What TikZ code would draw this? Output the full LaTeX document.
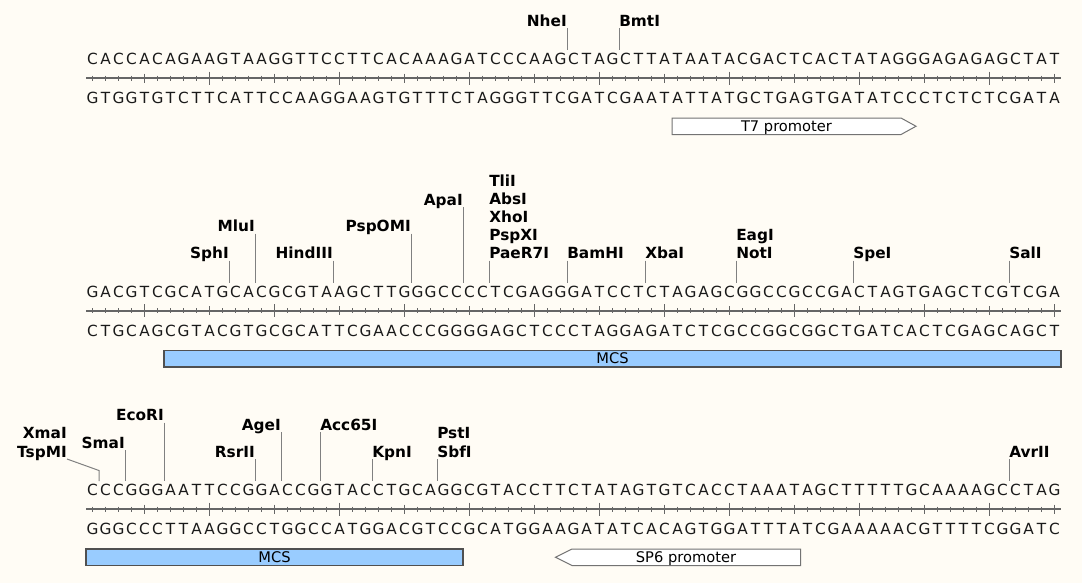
\documentclass[tikz,border=0pt]{standalone}
\usepackage{fontspec}
\setmainfont{DejaVu Sans}
\usepackage{tikz}
\usetikzlibrary{positioning}
\usepackage{xcolor}

\definecolor{paper}{HTML}{FFFCF5}
\definecolor{rulegray}{HTML}{666666}
\definecolor{mcsblue}{HTML}{99CCFF}
\definecolor{boxgray}{HTML}{505050}

% one strand of bases, one node per base, 13px apart
\makeatletter
\newcount\seq@i
\newcommand\seqrow[3]{% name, y, bases
  \seq@i=0 \def\seq@name{#1}\def\seq@y{#2}%
  \seq@next#3\@nil}
\def\seq@next#1{%
  \ifx#1\@nil\expandafter\@gobble\else\expandafter\@firstofone\fi
  {\seq@put{#1}\seq@next}}
\def\seq@put#1{%
  \node[nuc] (\seq@name-\the\seq@i) at ({92.5+13*\the\seq@i},\seq@y) {#1};%
  \advance\seq@i by 1 }
\makeatother

% ruler between the strands: y, number of the first base
\newcommand\seqruler[2]{%
  \draw[rulerline] (86,#1) -- (1061,#1);
  \foreach \i in {0,...,74}{
    \pgfmathtruncatemacro\tpos{mod(\i+#2,10)}
    \ifnum\tpos=0 \def\tkh{6.5}\else\ifnum\tpos=5 \def\tkh{4.5}\else\def\tkh{2.5}\fi\fi
    \draw[rtick] ({92.5+13*\i},{#1-\tkh}) -- ({92.5+13*\i},{#1+\tkh});
  }}

\begin{document}
\begin{tikzpicture}[
    x=0.75pt, y=-0.75pt,
    nuc/.style={font=\fontsize{11.5}{13}\selectfont, text=black!90, inner sep=0pt},
    site/.style={font=\fontsize{11.5}{13}\selectfont\bfseries, inner sep=0pt},
    cutline/.style={draw=black!50, line width=0.75pt},
    rulerline/.style={draw=rulegray, line width=1.5pt},
    rtick/.style={draw=rulegray, line width=1pt},
    mcsbar/.style={fill=mcsblue, draw=boxgray, line width=1pt},
    promo/.style={fill=white, draw=black!55, line width=0.75pt},
    featlabel/.style={font=\fontsize{11}{13}\selectfont, inner sep=0pt, anchor=base}
]

\fill[paper] (0,0) rectangle (1082,583);
\useasboundingbox (0,0) rectangle (1082,583);

% Row 1: bases 1-75
\seqrow{topA}{59}{CACCACAGAAGTAAGGTTCCTTCACAAAGATCCCAAGCTAGCTTATAATACGACTCACTATAGGGAGAGAGCTAT}
\seqruler{78}{1}
\seqrow{botA}{98}{GTGGTGTCTTCATTCCAAGGAAGTGTTTCTAGGGTTCGATCGAATATTATGCTGAGTGATATCCCTCTCTCGATA}

\node[site, anchor=base east] (nhe) at (567,26) {NheI};
\node[site, anchor=base west] (bmt) at (619,26) {BmtI};
\coordinate (nhe-cut) at (567,50);
\coordinate (bmt-cut) at (619,50);
\draw[cutline] ([yshift=-1.5pt]nhe.base east) -- (nhe-cut);
\draw[cutline] ([yshift=-1.5pt]bmt.base west) -- (bmt-cut);

\draw[promo] (672,118) -- (901,118) -- (916,126.25) -- (901,134.5) -- (672,134.5) -- cycle;
\node[featlabel] (t7) at (786.5,131.3) {T7 promoter};

% Row 2: bases 76-150
\seqrow{topB}{291.5}{GACGTCGCATGCACGCGTAAGCTTGGGCCCCTCGAGGGATCCTCTAGAGCGGCCGCCGACTAGTGAGCTCGTCGA}
\seqruler{310.5}{76}
\seqrow{botB}{330.5}{CTGCAGCGTACGTGCGCATTCGAACCCGGGGAGCTCCCTAGGAGATCTCGCCGGCGGCTGATCACTCGAGCAGCT}

\node[site, anchor=base east] (sph) at (229,258.5) {SphI};
\node[site, anchor=base east] (mlu) at (255,231.7) {MluI};
\node[site, anchor=base east] (hind) at (333,258.5) {HindIII};
\node[site, anchor=base east] (pspo) at (411,231.7) {PspOMI};
\node[site, anchor=base east] (apa) at (463,205) {ApaI};
\node[site, anchor=base west] (paer) at (489,258.5) {PaeR7I};
\node[site, anchor=base west] (pspx) at (489,240.4) {PspXI};
\node[site, anchor=base west] (xho) at (489,222.3) {XhoI};
\node[site, anchor=base west] (abs) at (489,204.2) {AbsI};
\node[site, anchor=base west] (tli) at (489,186.1) {TliI};
\node[site, anchor=base west] (bam) at (567,258.5) {BamHI};
\node[site, anchor=base west] (xba) at (645,258.5) {XbaI};
\node[site, anchor=base west] (not) at (736,258.5) {NotI};
\node[site, anchor=base west] (eag) at (736,240.4) {EagI};
\node[site, anchor=base west] (spe) at (853,258.5) {SpeI};
\node[site, anchor=base west] (sal) at (1009,258.5) {SalI};

\coordinate (sph-cut) at (229,282.5);
\coordinate (mlu-cut) at (255,282.5);
\coordinate (hind-cut) at (333,282.5);
\coordinate (pspo-cut) at (411,282.5);
\coordinate (apa-cut) at (463,282.5);
\coordinate (paer-cut) at (489,282.5);
\coordinate (bam-cut) at (567,282.5);
\coordinate (xba-cut) at (645,282.5);
\coordinate (not-cut) at (736,282.5);
\coordinate (spe-cut) at (853,282.5);
\coordinate (sal-cut) at (1009,282.5);

\draw[cutline] ([yshift=-1.5pt]sph.base east) -- (sph-cut);
\draw[cutline] ([yshift=-1.5pt]mlu.base east) -- (mlu-cut);
\draw[cutline] ([yshift=-1.5pt]hind.base east) -- (hind-cut);
\draw[cutline] ([yshift=-1.5pt]pspo.base east) -- (pspo-cut);
\draw[cutline] ([yshift=-1.5pt]apa.base east) -- (apa-cut);
\draw[cutline] ([yshift=-1.5pt]paer.base west) -- (paer-cut);
\draw[cutline] ([yshift=-1.5pt]bam.base west) -- (bam-cut);
\draw[cutline] ([yshift=-1.5pt]xba.base west) -- (xba-cut);
\draw[cutline] ([yshift=-1.5pt]not.base west) -- (not-cut);
\draw[cutline] ([yshift=-1.5pt]spe.base west) -- (spe-cut);
\draw[cutline] ([yshift=-1.5pt]sal.base west) -- (sal-cut);

\draw[mcsbar] (164,350.5) rectangle (1061,367);
\node[featlabel] (mcsB) at (612.5,363.8) {MCS};

% Row 3: bases 151-225
\seqrow{topC}{490}{CCCGGGAATTCCGGACCGGTACCTGCAGGCGTACCTTCTATAGTGTCACCTAAATAGCTTTTTGCAAAAGCCTAG}
\seqruler{509}{151}
\seqrow{botC}{529}{GGGCCCTTAAGGCCTGGCCATGGACGTCCGCATGGAAGATATCACAGTGGATTTATCGAAAAACGTTTTCGGATC}

\node[site, anchor=base east] (tspm) at (67,457) {TspMI};
\node[site, anchor=base east] (xma) at (67,438.9) {XmaI};
\node[site, anchor=base east] (sma) at (125,448.2) {SmaI};
\node[site, anchor=base east] (eco) at (164,420.7) {EcoRI};
\node[site, anchor=base east] (rsr) at (255,457) {RsrII};
\node[site, anchor=base east] (age) at (281,430.3) {AgeI};
\node[site, anchor=base west] (acc) at (320,430.3) {Acc65I};
\node[site, anchor=base west] (kpn) at (372,457) {KpnI};
\node[site, anchor=base west] (sbf) at (437,457) {SbfI};
\node[site, anchor=base west] (pst) at (437,438.9) {PstI};
\node[site, anchor=base west] (avr) at (1009,457) {AvrII};

\coordinate (tspm-bend) at (99,470.5);
\coordinate (tspm-cut) at (99,481);
\coordinate (sma-cut) at (125,481);
\coordinate (eco-cut) at (164,481);
\coordinate (rsr-cut) at (255,481);
\coordinate (age-cut) at (281,481);
\coordinate (acc-cut) at (320,481);
\coordinate (kpn-cut) at (372,481);
\coordinate (sbf-cut) at (437,481);
\coordinate (avr-cut) at (1009,481);

\draw[cutline] ([yshift=-1.5pt]tspm.base east) -- (tspm-bend) -- (tspm-cut);
\draw[cutline] ([yshift=-1.5pt]sma.base east) -- (sma-cut);
\draw[cutline] ([yshift=-1.5pt]eco.base east) -- (eco-cut);
\draw[cutline] ([yshift=-1.5pt]rsr.base east) -- (rsr-cut);
\draw[cutline] ([yshift=-1.5pt]age.base east) -- (age-cut);
\draw[cutline] ([yshift=-1.5pt]acc.base west) -- (acc-cut);
\draw[cutline] ([yshift=-1.5pt]kpn.base west) -- (kpn-cut);
\draw[cutline] ([yshift=-1.5pt]sbf.base west) -- (sbf-cut);
\draw[cutline] ([yshift=-1.5pt]avr.base west) -- (avr-cut);

\draw[mcsbar] (86,549) rectangle (463,565.5);
\node[featlabel] (mcsC) at (274.5,562.3) {MCS};
\draw[promo] (555.5,557.25) -- (572,549) -- (800.5,549) -- (800.5,565.5) -- (572,565.5) -- cycle;
\node[featlabel] (sp6) at (686,562.3) {SP6 promoter};

\end{tikzpicture}
\end{document}
